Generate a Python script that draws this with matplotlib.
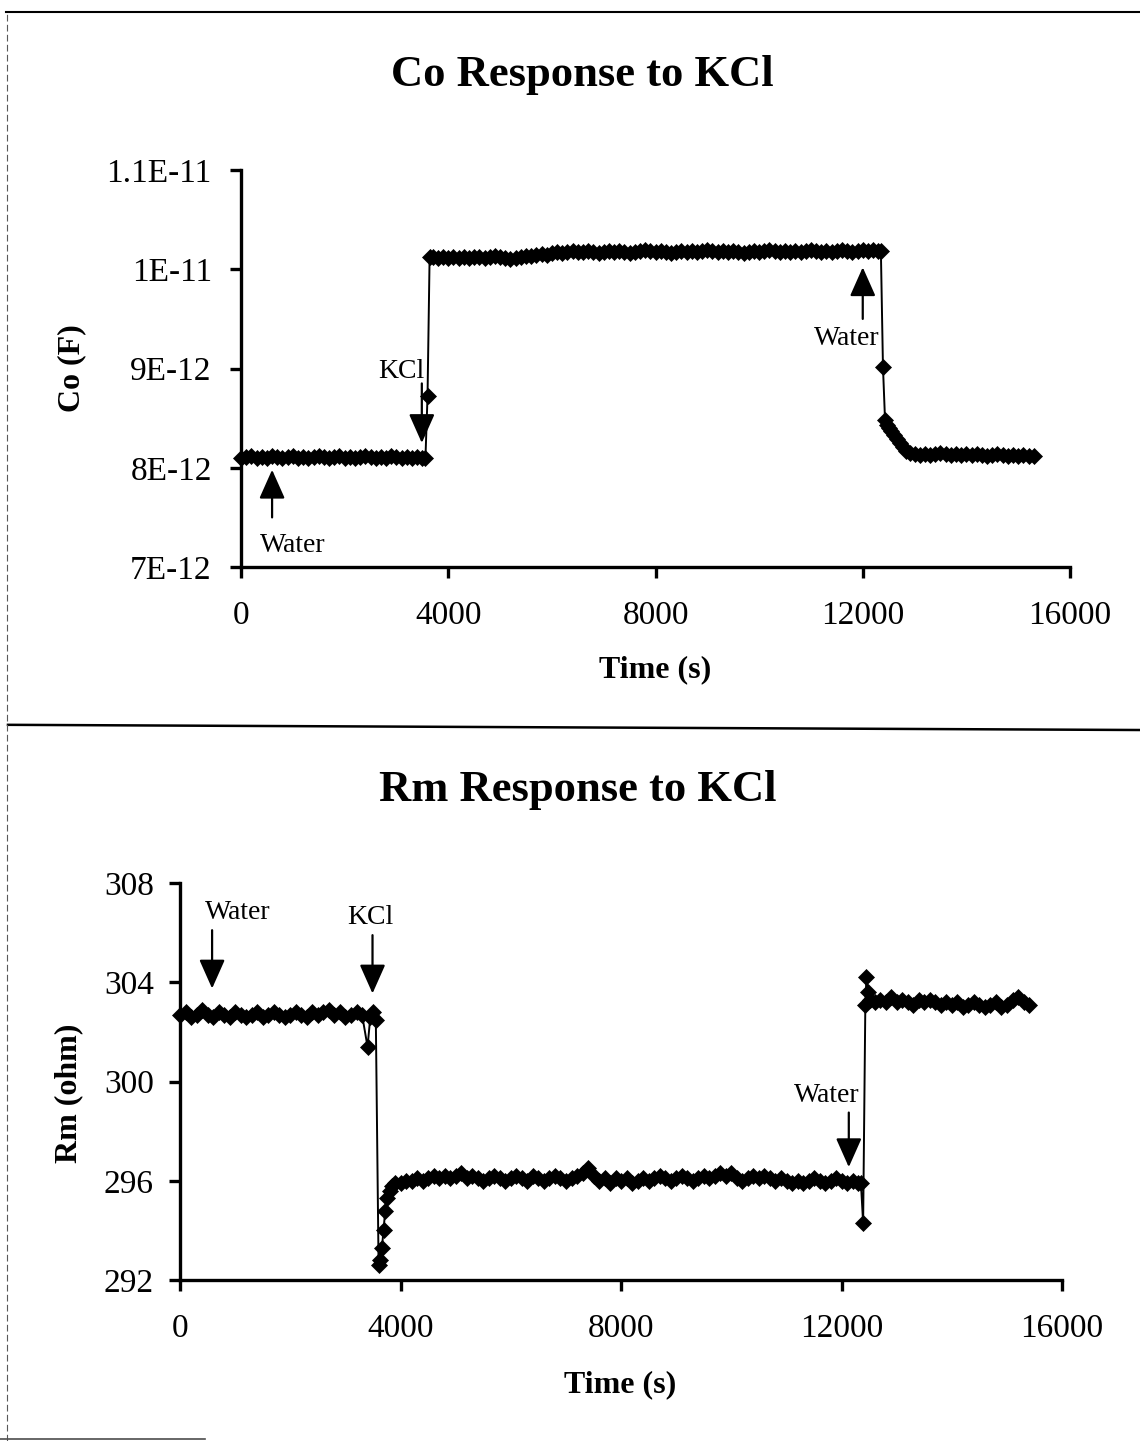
import matplotlib
matplotlib.use("Agg")
import matplotlib.pyplot as plt
import numpy as np
from matplotlib.lines import Line2D

plt.rcParams['font.family'] = ['Liberation Serif', 'DejaVu Serif']

tickSize = 24
labelSize = 23
titleSize = 32
noteSize = 20
markSize = 8.5

# ---------------- Co data (pF, shown as F on the axis) ----------------
co_t_a = np.arange(0, 3600, 100)
co_a = [8.10, 8.11, 8.12, 8.10, 8.11, 8.10, 8.12, 8.11, 8.10, 8.11,
        8.12, 8.10, 8.11, 8.10, 8.11, 8.12, 8.11, 8.10, 8.11, 8.12,
        8.10, 8.11, 8.10, 8.11, 8.12, 8.11, 8.10, 8.11, 8.10, 8.12,
        8.11, 8.10, 8.11, 8.10, 8.11, 8.10]
co_t_kcl = [3560, 3600, 3640]
co_kcl = [8.10, 8.72, 10.12]
co_t_b = np.arange(3700, 12400, 100)
co_b = [10.12, 10.11, 10.12, 10.11, 10.12, 10.11, 10.12, 10.11, 10.12,
        10.12, 10.11, 10.12, 10.13, 10.12, 10.11, 10.10, 10.11, 10.12, 10.13,
        10.13, 10.14, 10.15, 10.14, 10.16, 10.17, 10.16, 10.17, 10.18, 10.17,
        10.17, 10.18, 10.17, 10.16, 10.17, 10.18, 10.17, 10.18, 10.17, 10.16,
        10.17, 10.18, 10.19, 10.18, 10.17, 10.18, 10.17, 10.16, 10.17, 10.18,
        10.17, 10.18, 10.17, 10.18, 10.19, 10.18, 10.17, 10.18, 10.17, 10.18,
        10.17, 10.16, 10.17, 10.18, 10.17, 10.18, 10.19, 10.18, 10.17, 10.18,
        10.17, 10.18, 10.17, 10.18, 10.19, 10.18, 10.17, 10.18, 10.17, 10.18,
        10.19, 10.18, 10.17, 10.18, 10.19, 10.18, 10.19, 10.18]
co_t_w = [12350, 12390, 12430, 12460, 12500, 12550, 12600, 12660,
          12720, 12780, 12840, 12920]
co_w = [10.18, 9.02, 8.48, 8.43, 8.40, 8.37, 8.33, 8.29, 8.25, 8.21, 8.17, 8.15]
co_t_c = np.arange(13000, 15400, 100)
co_c = [8.14, 8.13, 8.14, 8.13, 8.14, 8.15, 8.14, 8.13, 8.14, 8.13,
        8.14, 8.13, 8.14, 8.13, 8.12, 8.13, 8.14, 8.13, 8.12, 8.13,
        8.12, 8.13, 8.12, 8.12]

co_yticks = [7, 8, 9, 10, 11]
co_ylabels = ['7E-12', '8E-12', '9E-12', '1E-11', '1.1E-11']

# ---------------- Rm data (ohm) ----------------
rm_t_a = np.arange(0, 3400, 100)
rm_a = [302.7, 302.8, 302.6, 302.7, 302.9, 302.7, 302.6, 302.8, 302.7, 302.6,
        302.8, 302.7, 302.6, 302.7, 302.8, 302.6, 302.7, 302.8, 302.7, 302.6,
        302.7, 302.8, 302.7, 302.6, 302.8, 302.7, 302.8, 302.9, 302.7, 302.8,
        302.6, 302.7, 302.8, 302.7]
rm_t_kcl = [3400, 3450, 3500, 3550, 3600, 3630, 3660, 3690, 3720, 3760,
            3800, 3850, 3900]
rm_kcl = [301.4, 302.6, 302.8, 302.5, 292.6, 292.8, 293.3, 294.0, 294.8,
          295.3, 295.6, 295.8, 295.9]
rm_t_b = np.arange(4000, 12400, 100)
rm_b = [295.9, 296.0, 296.0, 296.1, 296.0, 296.1, 296.2, 296.1, 296.2, 296.1,
        296.2, 296.3, 296.1, 296.2, 296.1, 296.0, 296.1, 296.2, 296.1, 296.0,
        296.1, 296.2, 296.1, 296.0, 296.2, 296.1, 296.0, 296.1, 296.2, 296.1,
        296.0, 296.1, 296.2, 296.3, 296.5, 296.2, 296.0, 296.1, 295.9, 296.1,
        296.0, 296.1, 295.9, 296.0, 296.1, 296.0, 296.1, 296.2, 296.1, 296.0,
        296.1, 296.2, 296.1, 296.0, 296.1, 296.2, 296.1, 296.2, 296.3, 296.2,
        296.3, 296.1, 296.0, 296.1, 296.2, 296.1, 296.2, 296.1, 296.0, 296.1,
        296.0, 295.9, 296.0, 295.9, 296.0, 296.1, 296.0, 295.9, 296.0, 296.1,
        296.0, 295.9, 296.0, 295.9]
rm_t_w = [12350, 12390, 12430, 12450, 12480, 12520]
rm_w = [295.9, 294.3, 303.1, 304.2, 303.6, 303.3]
rm_t_c = np.arange(12600, 15500, 100)
rm_c = [303.2, 303.3, 303.2, 303.4, 303.2, 303.3, 303.2, 303.1, 303.3, 303.2,
        303.3, 303.2, 303.1, 303.2, 303.1, 303.2, 303.0, 303.1, 303.2, 303.1,
        303.0, 303.1, 303.2, 303.0, 303.1, 303.3, 303.4, 303.2, 303.1]

rm_yticks = [292, 296, 300, 304, 308]
xticks = [0, 4000, 8000, 12000, 16000]

co_t = np.concatenate([co_t_a, co_t_kcl, co_t_b, co_t_w, co_t_c])
co = np.concatenate([co_a, co_kcl, co_b, co_w, co_c])
rm_t = np.concatenate([rm_t_a, rm_t_kcl, rm_t_b, rm_t_w, rm_t_c])
rm = np.concatenate([rm_a, rm_kcl, rm_b, rm_w, rm_c])

fig = plt.figure(figsize=(11.4, 14.41), dpi=100)


def style_axes(ax, ypad):
    for s in ['top', 'right']:
        ax.spines[s].set_visible(False)
    for s in ['left', 'bottom']:
        ax.spines[s].set_linewidth(2.4)
    ax.tick_params(axis='both', direction='out', length=8, width=2.4,
                   labelsize=tickSize)
    ax.tick_params(axis='x', pad=16)
    ax.tick_params(axis='y', pad=ypad)
    ax.set_xlim(0, 16000)
    ax.set_xticks(xticks)
    ax.set_xticklabels([str(v) for v in xticks])


def arrow(ax, tip, tail):
    ax.annotate('', xy=tip, xytext=tail,
                arrowprops=dict(arrowstyle='-|>,head_length=0.9,head_width=0.4',
                                mutation_scale=20, lw=1.6, color='black',
                                shrinkA=0, shrinkB=0))


#######################################
# Co panel
#######################################
ax1 = fig.add_axes([0.2114, 0.6065, 0.7272, 0.2755])
ax1.plot(co_t, co, color='black', lw=1.4, marker='D', markersize=markSize,
         markeredgewidth=0.5, clip_on=False)
ax1.set_ylim(7, 11)
ax1.set_yticks(co_yticks)
ax1.set_yticklabels(co_ylabels)
style_axes(ax1, 13)

arrow(ax1, (600, 7.98), (600, 7.5))
ax1.text(1000, 7.22, 'Water', fontsize=noteSize, ha='center', va='center')
arrow(ax1, (3490, 8.25), (3490, 8.85))
ax1.text(3100, 8.97, 'KCl', fontsize=noteSize, ha='center', va='center')
arrow(ax1, (12000, 10.02), (12000, 9.5))
ax1.text(11700, 9.3, 'Water', fontsize=noteSize, ha='center', va='center')

#######################################
# Rm panel
#######################################
ax2 = fig.add_axes([0.158, 0.1117, 0.7737, 0.2755])
ax2.plot(rm_t, rm, color='black', lw=1.4, marker='D', markersize=markSize,
         markeredgewidth=0.5, clip_on=False)
ax2.set_ylim(292, 308)
ax2.set_yticks(rm_yticks)
style_axes(ax2, 11)

arrow(ax2, (580, 303.75), (580, 306.1))
ax2.text(1040, 306.8, 'Water', fontsize=noteSize, ha='center', va='center')
arrow(ax2, (3490, 303.55), (3490, 305.9))
ax2.text(3450, 306.6, 'KCl', fontsize=noteSize, ha='center', va='center')
arrow(ax2, (12130, 296.55), (12130, 298.75))
ax2.text(11730, 299.45, 'Water', fontsize=noteSize, ha='center', va='center')

#######################################
# Titles and axis labels
#######################################
fig.text(0.5105, 0.948, 'Co Response to KCl', fontsize=titleSize,
         fontweight='bold', ha='center', va='center')
fig.text(0.507, 0.452, 'Rm Response to KCl', fontsize=titleSize,
         fontweight='bold', ha='center', va='center')
fig.text(0.5746, 0.535, 'Time (s)', fontsize=labelSize, fontweight='bold',
         ha='center', va='center')
fig.text(0.544, 0.0389, 'Time (s)', fontsize=labelSize, fontweight='bold',
         ha='center', va='center')
fig.text(0.063, 0.7446, 'Co (F)', fontsize=labelSize, fontweight='bold',
         ha='center', va='center', rotation=90)
fig.text(0.06, 0.241, 'Rm (ohm)', fontsize=labelSize, fontweight='bold',
         ha='center', va='center', rotation=90)

# page frame lines from the scan
fig.add_artist(Line2D([0.005, 1.0], [0.9917, 0.9917], color='black', lw=1.5,
                      transform=fig.transFigure))
fig.add_artist(Line2D([0.007, 1.0], [0.497, 0.4934], color='black', lw=1.8,
                      transform=fig.transFigure))
fig.add_artist(Line2D([0.006, 0.006], [0.0, 0.9917], color='0.35', lw=0.8,
                      ls=(0, (6, 3)), transform=fig.transFigure))
fig.add_artist(Line2D([0.0, 0.18], [0.0015, 0.0015], color='0.3', lw=1.2,
                      transform=fig.transFigure))

fig.savefig('out.png', dpi=100)
